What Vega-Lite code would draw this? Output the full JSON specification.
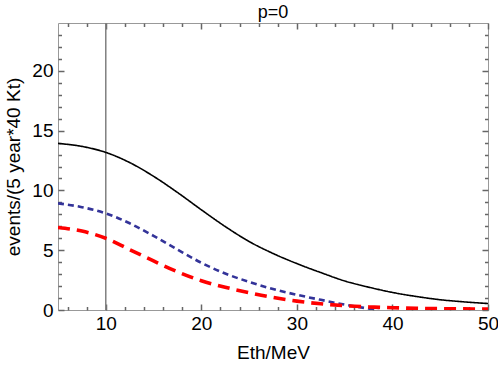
{
  "$schema": "https://vega.github.io/schema/vega-lite/v6.json",
  "width": 430,
  "height": 287,
  "autosize": "none",
  "padding": {"left": 58, "top": 23, "right": 10, "bottom": 55},
  "title": {"text": "p=0", "fontSize": 18, "font": "Liberation Sans", "fontWeight": "normal", "color": "black", "offset": 0},
  "config": {
    "view": {"stroke": "#999999", "strokeWidth": 1},
    "axis": {
      "domain": false,
      "ticks": true,
      "tickColor": "#666666",
      "tickWidth": 1.5,
      "tickOpacity": 1,
      "zindex": 1,
      "grid": false,
      "labelFont": "Liberation Sans",
      "labelFontSize": 19,
      "labelColor": "black",
      "titleFont": "Liberation Sans",
      "titleFontSize": 19,
      "titleFontWeight": "normal",
      "titleColor": "black",
      "labelOverlap": false,
      "labelFlush": false
    }
  },
  "datasets": {
    "curves": [
      {"E": 5, "events": 13.93, "series": "black"},
      {"E": 7.5, "events": 13.68, "series": "black"},
      {"E": 10, "events": 13.18, "series": "black"},
      {"E": 12.5, "events": 12.33, "series": "black"},
      {"E": 15, "events": 11.18, "series": "black"},
      {"E": 17.5, "events": 9.83, "series": "black"},
      {"E": 20, "events": 8.38, "series": "black"},
      {"E": 22.5, "events": 6.98, "series": "black"},
      {"E": 25, "events": 5.73, "series": "black"},
      {"E": 27.5, "events": 4.73, "series": "black"},
      {"E": 30, "events": 3.88, "series": "black"},
      {"E": 32.5, "events": 3.13, "series": "black"},
      {"E": 35, "events": 2.43, "series": "black"},
      {"E": 37.5, "events": 1.91, "series": "black"},
      {"E": 40, "events": 1.47, "series": "black"},
      {"E": 42.5, "events": 1.13, "series": "black"},
      {"E": 45, "events": 0.86, "series": "black"},
      {"E": 47.5, "events": 0.68, "series": "black"},
      {"E": 50, "events": 0.54, "series": "black"},
      {"E": 5, "events": 8.92, "series": "blue"},
      {"E": 7.5, "events": 8.6, "series": "blue"},
      {"E": 10, "events": 8.08, "series": "blue"},
      {"E": 12.5, "events": 7.25, "series": "blue"},
      {"E": 15, "events": 6.2, "series": "blue"},
      {"E": 17.5, "events": 5.05, "series": "blue"},
      {"E": 20, "events": 3.95, "series": "blue"},
      {"E": 22.5, "events": 3.05, "series": "blue"},
      {"E": 25, "events": 2.35, "series": "blue"},
      {"E": 27.5, "events": 1.75, "series": "blue"},
      {"E": 30, "events": 1.27, "series": "blue"},
      {"E": 32.5, "events": 0.85, "series": "blue"},
      {"E": 35, "events": 0.45, "series": "blue"},
      {"E": 37.5, "events": 0.12, "series": "blue"},
      {"E": 38.5, "events": 0.0, "series": "blue"},
      {"E": 5, "events": 6.9, "series": "red"},
      {"E": 7.5, "events": 6.6, "series": "red"},
      {"E": 10, "events": 6.0, "series": "red"},
      {"E": 12.5, "events": 5.05, "series": "red"},
      {"E": 15, "events": 4.1, "series": "red"},
      {"E": 17.5, "events": 3.2, "series": "red"},
      {"E": 20, "events": 2.45, "series": "red"},
      {"E": 22.5, "events": 1.9, "series": "red"},
      {"E": 25, "events": 1.45, "series": "red"},
      {"E": 27.5, "events": 1.05, "series": "red"},
      {"E": 30, "events": 0.74, "series": "red"},
      {"E": 32.5, "events": 0.52, "series": "red"},
      {"E": 35, "events": 0.36, "series": "red"},
      {"E": 37.5, "events": 0.26, "series": "red"},
      {"E": 40, "events": 0.19, "series": "red"},
      {"E": 42.5, "events": 0.14, "series": "red"},
      {"E": 45, "events": 0.11, "series": "red"},
      {"E": 47.5, "events": 0.09, "series": "red"},
      {"E": 50, "events": 0.08, "series": "red"}
    ],
    "marker": [{"E": 10}]
  },
  "resolve": {"axis": {"x": "independent", "y": "independent"}},
  "layer": [
    {
      "data": {"name": "marker"},
      "mark": {"type": "rule", "color": "#808080", "strokeWidth": 1.5},
      "encoding": {
        "x": {
          "field": "E", "type": "quantitative",
          "scale": {"domain": [5, 50], "nice": false, "zero": false},
          "axis": {
            "orient": "bottom",
            "title": "Eth/MeV",
            "values": [10, 20, 30, 40, 50],
            "tickSize": -6,
            "labelPadding": 10,
            "titlePadding": 10
          }
        }
      }
    },
    {
      "data": {"name": "curves"},
      "mark": {"type": "line", "clip": true, "interpolate": "monotone"},
      "encoding": {
        "x": {
          "field": "E", "type": "quantitative",
          "scale": {"domain": [5, 50], "nice": false, "zero": false},
          "axis": {"orient": "top", "title": null, "labels": false, "values": [10, 20, 30, 40, 50], "tickSize": -6}
        },
        "y": {
          "field": "events", "type": "quantitative",
          "scale": {"domain": [0, 24], "nice": false, "zero": true},
          "axis": {
            "orient": "left",
            "title": "events/(5 year*40 Kt)",
            "values": [0, 5, 10, 15, 20],
            "tickSize": -6,
            "labelPadding": 11,
            "titlePadding": 8
          }
        },
        "color": {"field": "series", "type": "nominal", "scale": {"domain": ["black", "blue", "red"], "range": ["#000000", "#333399", "#ff0000"]}, "legend": null},
        "strokeDash": {"field": "series", "type": "nominal", "scale": {"domain": ["black", "blue", "red"], "range": [[1, 0], [6, 4], [12, 7]]}, "legend": null},
        "strokeWidth": {"field": "series", "type": "nominal", "scale": {"domain": ["black", "blue", "red"], "range": [1.6, 3.6, 3.6]}, "legend": null}
      }
    },
    {
      "data": {"name": "marker"},
      "mark": {"type": "point", "opacity": 0},
      "encoding": {
        "x": {
          "field": "E", "type": "quantitative",
          "scale": {"domain": [5, 50], "nice": false, "zero": false},
          "axis": {"orient": "bottom", "title": null, "labels": false, "values": [6, 8, 12, 14, 16, 18, 22, 24, 26, 28, 32, 34, 36, 38, 42, 44, 46, 48], "tickSize": -3.5}
        },
        "y": {
          "datum": 1, "type": "quantitative",
          "scale": {"domain": [0, 24], "nice": false, "zero": true},
          "axis": {"orient": "right", "title": null, "labels": false, "values": [0, 5, 10, 15, 20], "tickSize": -6}
        }
      }
    },
    {
      "data": {"name": "marker"},
      "mark": {"type": "point", "opacity": 0},
      "encoding": {
        "x": {
          "field": "E", "type": "quantitative",
          "scale": {"domain": [5, 50], "nice": false, "zero": false},
          "axis": {"orient": "top", "title": null, "labels": false, "values": [6, 8, 12, 14, 16, 18, 22, 24, 26, 28, 32, 34, 36, 38, 42, 44, 46, 48], "tickSize": -3.5}
        },
        "y": {
          "datum": 1, "type": "quantitative",
          "scale": {"domain": [0, 24], "nice": false, "zero": true},
          "axis": {"orient": "left", "title": null, "labels": false, "values": [1, 2, 3, 4, 6, 7, 8, 9, 11, 12, 13, 14, 16, 17, 18, 19, 21, 22, 23], "tickSize": -3.5}
        }
      }
    },
    {
      "data": {"name": "marker"},
      "mark": {"type": "point", "opacity": 0},
      "encoding": {
        "y": {
          "datum": 1, "type": "quantitative",
          "scale": {"domain": [0, 24], "nice": false, "zero": true},
          "axis": {"orient": "right", "title": null, "labels": false, "values": [1, 2, 3, 4, 6, 7, 8, 9, 11, 12, 13, 14, 16, 17, 18, 19, 21, 22, 23], "tickSize": -3.5}
        }
      }
    }
  ]
}
